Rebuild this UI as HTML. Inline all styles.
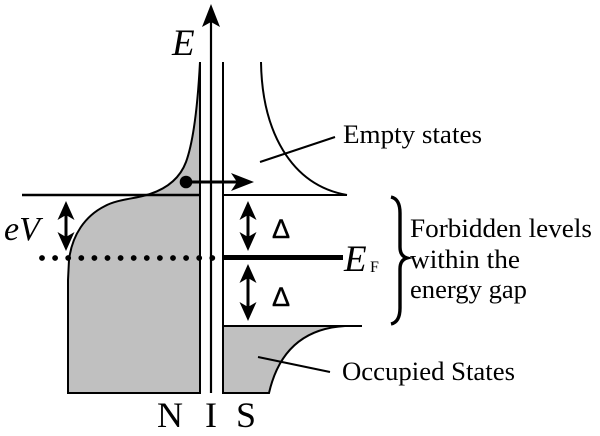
<!DOCTYPE html>
<html><head><meta charset="utf-8"><style>
html,body{margin:0;padding:0;background:#fff;}
svg{display:block;}
text{font-family:"Liberation Serif",serif;fill:#000;}
</style></head><body>
<svg width="600" height="436" viewBox="0 0 600 436" xmlns="http://www.w3.org/2000/svg">
<!-- N filled region -->
<path d="M200,62 C198,100 194,140 186,162 C180,178 168,188 150,194 C135,199 118,199 105,206 C85,216 72,235 69,260 L68,280 L68,393 L200,393 Z" fill="#c0c0c0" stroke="#000" stroke-width="2"/>
<!-- S occupied region -->
<path d="M223,326 L345,326 C310,328 280,345 269,393 L223,393 Z" fill="#c0c0c0" stroke="#000" stroke-width="2"/>
<!-- S empty curve -->
<path d="M261,62 C262,130 290,185 347,195" fill="none" stroke="#000" stroke-width="2"/>
<!-- horizontal lines -->
<line x1="22" y1="195" x2="200" y2="195" stroke="#000" stroke-width="2.5"/>
<line x1="223" y1="195" x2="347" y2="195" stroke="#000" stroke-width="2"/>
<line x1="223" y1="326" x2="362" y2="326" stroke="#000" stroke-width="2"/>
<line x1="223" y1="257.5" x2="343" y2="257.5" stroke="#000" stroke-width="5"/>
<!-- vertical lines -->
<line x1="200" y1="62" x2="200" y2="393" stroke="#000" stroke-width="2"/>
<line x1="223" y1="62" x2="223" y2="393" stroke="#000" stroke-width="2"/>
<line x1="211" y1="18" x2="211" y2="393" stroke="#000" stroke-width="2.2"/>
<path d="M211,4 L220,27 L211,22 L202,27 Z" fill="#000"/>
<!-- dotted line -->
<g fill="#000">
<circle cx="42" cy="258" r="2.9"/><circle cx="55.1" cy="258" r="2.9"/><circle cx="68.2" cy="258" r="2.9"/><circle cx="81.3" cy="258" r="2.9"/><circle cx="94.4" cy="258" r="2.9"/><circle cx="107.5" cy="258" r="2.9"/><circle cx="120.6" cy="258" r="2.9"/><circle cx="133.7" cy="258" r="2.9"/><circle cx="146.8" cy="258" r="2.9"/><circle cx="159.9" cy="258" r="2.9"/><circle cx="173" cy="258" r="2.9"/><circle cx="186.1" cy="258" r="2.9"/><circle cx="199.2" cy="258" r="2.9"/><circle cx="212.3" cy="258" r="2.9"/>
</g>
<!-- electron dot and arrow -->
<circle cx="186" cy="182" r="6.3" fill="#000"/>
<line x1="186" y1="182" x2="245" y2="182" stroke="#000" stroke-width="3"/>
<path d="M254,182 L231,173 L237,182 L231,191 Z" fill="#000"/>
<!-- double arrows -->
<g fill="#000" stroke="none">
<rect x="64.5" y="212" width="3" height="28"/>
<path d="M66,201 L74.5,220 L66,215 L57.5,220 Z"/>
<path d="M66,251 L74.5,232 L66,237 L57.5,232 Z"/>
<rect x="246.5" y="212" width="3" height="28"/>
<path d="M248,201 L256.5,220 L248,215 L239.5,220 Z"/>
<path d="M248,251 L256.5,232 L248,237 L239.5,232 Z"/>
<rect x="246.5" y="276" width="3" height="34"/>
<path d="M248,264 L256.5,283 L248,278 L239.5,283 Z"/>
<path d="M248,321 L256.5,302 L248,307 L239.5,302 Z"/>
</g>
<!-- leader lines -->
<line x1="260" y1="162" x2="335" y2="137" stroke="#000" stroke-width="2"/>
<line x1="258" y1="357" x2="330" y2="372" stroke="#000" stroke-width="2"/>
<!-- brace -->
<path d="M391,197 Q400,199 400,213 L400,247 Q400,256 407,258 Q400,260 400,269 L400,308 Q400,322 391,324" fill="none" stroke="#000" stroke-width="3.4"/>
<!-- labels -->
<text x="172" y="55" font-size="37" font-style="italic">E</text>
<text x="4" y="240" font-size="34" font-style="italic">eV</text>
<text x="344" y="271" font-size="37" font-style="italic">E</text>
<text x="370" y="272" font-size="16">F</text>
<text x="272" y="238" font-size="27" style="font-family:'Liberation Sans',sans-serif" stroke="#000" stroke-width="0.4">Δ</text>
<text x="272" y="306" font-size="27" style="font-family:'Liberation Sans',sans-serif" stroke="#000" stroke-width="0.4">Δ</text>
<text x="343" y="143" font-size="26.5" textLength="139" lengthAdjust="spacingAndGlyphs">Empty states</text>
<text x="410" y="237" font-size="26.5" textLength="182" lengthAdjust="spacingAndGlyphs">Forbidden levels</text>
<text x="410" y="268" font-size="26.5" textLength="110" lengthAdjust="spacingAndGlyphs">within the</text>
<text x="410" y="298" font-size="26.5" textLength="117" lengthAdjust="spacingAndGlyphs">energy gap</text>
<text x="342" y="380" font-size="26.5" textLength="173" lengthAdjust="spacingAndGlyphs">Occupied States</text>
<text x="157" y="427" font-size="36">N</text>
<text x="205" y="427" font-size="36">I</text>
<text x="236" y="427" font-size="36">S</text>
</svg>
</body></html>
